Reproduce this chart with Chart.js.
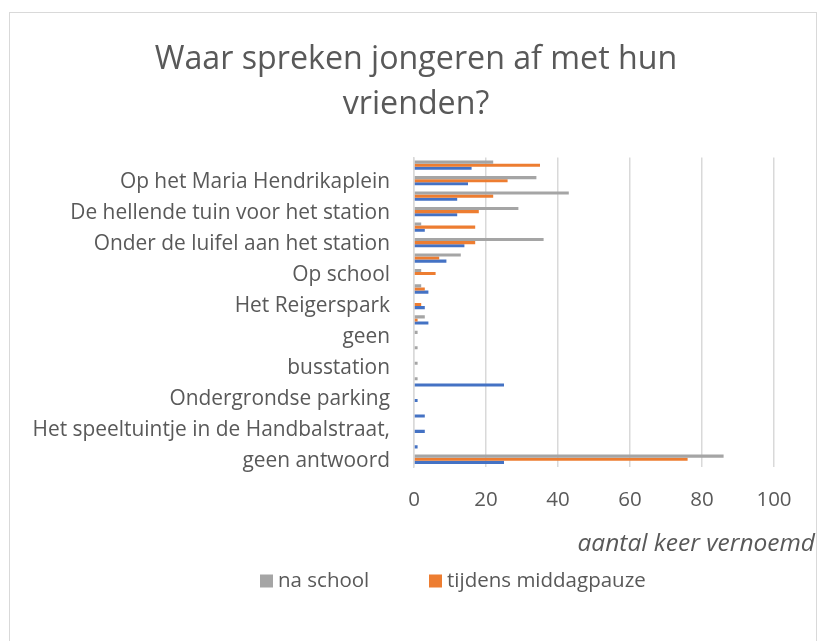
<!DOCTYPE html>
<html>
<head>
<meta charset="utf-8">
<script src="https://cdn.jsdelivr.net/npm/chart.js@4/dist/chart.umd.min.js"></script>
<style>
html,body{margin:0;padding:0;background:#ffffff;}
#wrap{position:relative;width:820px;height:641px;}
</style>
</head>
<body>
<div id="wrap"><canvas id="c" width="820" height="641"></canvas></div>
<script>
// Categories listed from the bottom of the chart to the top (Excel order).
// Only every other label is shown in the original; the hidden ones cannot be read.
const categories = [
  'geen antwoord', '',
  'Het speeltuintje in de Handbalstraat,', '',
  'Ondergrondse parking', '',
  'busstation', '',
  'geen', '',
  'Het Reigerspark', '',
  'Op school', '',
  'Onder de luifel aan het station', '',
  'De hellende tuin voor het station', '',
  'Op het Maria Hendrikaplein', ''
];
const seriesNames = ['na school', 'tijdens middagpauze', 'voor school'];
const naSchool      = [86, 0, 0, 0, 0, 1, 1, 1, 1, 3, 0, 2, 2, 13, 36, 2, 29, 43, 34, 22];
const middagpauze   = [76, 0, 0, 0, 0, 0, 0, 0, 0, 1, 2, 3, 6, 7, 17, 17, 18, 22, 26, 35];
const derdeReeks    = [25, 1, 3, 3, 1, 25, 0, 0, 0, 4, 3, 4, 0, 9, 14, 3, 12, 12, 15, 16];
const xTicks = [0, 20, 40, 60, 80, 100];
const titleLines = ['Waar spreken jongeren af met hun', 'vrienden?'];
const xAxisTitle = 'aantal keer vernoemd';

const colors = ['#A5A5A5', '#ED7D31', '#4472C4'];
const TXT = '#595959';
const FONT = '"Open Sans", Lato, sans-serif';

const frame = {
  id: 'frame',
  beforeDraw(chart) {
    const ctx = chart.ctx;
    ctx.save();
    ctx.fillStyle = '#ffffff';
    ctx.fillRect(0, 0, chart.width, chart.height);
    ctx.strokeStyle = '#d9d9d9';
    ctx.lineWidth = 1;
    ctx.strokeRect(9.5, 12.5, 807, 700);
    ctx.restore();
  }
};

// centre the title over the whole chart frame rather than over the padded box
const titleCentre = {
  id: 'titleCentre',
  afterLayout(chart) {
    const t = chart.titleBlock;
    if (t) { t.left = 12; t.right = 820; t.width = 808; }
  }
};

const extras = {
  id: 'extras',
  afterDraw(chart) {
    const ctx = chart.ctx;
    ctx.save();
    // axis title
    ctx.fillStyle = TXT;
    ctx.font = 'italic 24.5px ' + FONT;
    ctx.textAlign = 'right';
    ctx.textBaseline = 'middle';
    ctx.fillText(xAxisTitle, 815, 544);
    // legend (first two series, as visible in the original)
    const items = [
      {x: 260, tx: 278, i: 0},
      {x: 429, tx: 447, i: 1}
    ];
    ctx.font = '20.5px ' + FONT;
    ctx.textAlign = 'left';
    items.forEach(it => {
      const ds = chart.data.datasets[it.i];
      ctx.fillStyle = ds.backgroundColor;
      ctx.fillRect(it.x, 581 - 6.5, 13, 13);
      ctx.fillStyle = TXT;
      ctx.fillText(ds.label, it.tx, 581);
    });
    ctx.restore();
  }
};

new Chart(document.getElementById('c'), {
  type: 'bar',
  data: {
    labels: categories,
    datasets: [
      {label: seriesNames[0], data: naSchool, backgroundColor: colors[0]},
      {label: seriesNames[1], data: middagpauze, backgroundColor: colors[1]},
      {label: seriesNames[2], data: derdeReeks, backgroundColor: colors[2]}
    ]
  },
  options: {
    indexAxis: 'y',
    responsive: false,
    animation: false,
    devicePixelRatio: 1,
    layout: {padding: {left: 0, right: 46, top: 0, bottom: 134}},
    datasets: {bar: {categoryPercentage: 0.6, barPercentage: 1.0, borderWidth: 0}},
    plugins: {
      legend: {display: false},
      tooltip: {enabled: false},
      title: {
        display: true,
        text: titleLines,
        color: TXT,
        font: {family: FONT, size: 32.2, weight: 'normal', lineHeight: 1.4},
        padding: {top: 37.5, bottom: 29.8}
      }
    },
    scales: {
      x: {
        min: 0, max: 100,
        afterBuildTicks(scale) { scale.ticks = xTicks.map(v => ({value: v})); },
        afterFit(scale) { scale.height = 40; },
        grid: {color: '#d9d9d9', lineWidth: 1.5, drawTicks: false},
        border: {display: false},
        ticks: {color: TXT, font: {family: FONT, size: 20.5}, padding: 21}
      },
      y: {
        reverse: true,
        afterFit(scale) { scale.width = 414; },
        grid: {display: false, drawTicks: false},
        border: {display: true, color: '#d9d9d9', width: 1.5},
        ticks: {
          autoSkip: false,
          color: TXT,
          font: {family: FONT, size: 20.9},
          padding: 24,
          labelOffset: 1.5,
          callback(value, index) { return index % 2 === 0 ? categories[index] : ''; }
        }
      }
    }
  },
  plugins: [frame, titleCentre, extras]
});
</script>
</body>
</html>
